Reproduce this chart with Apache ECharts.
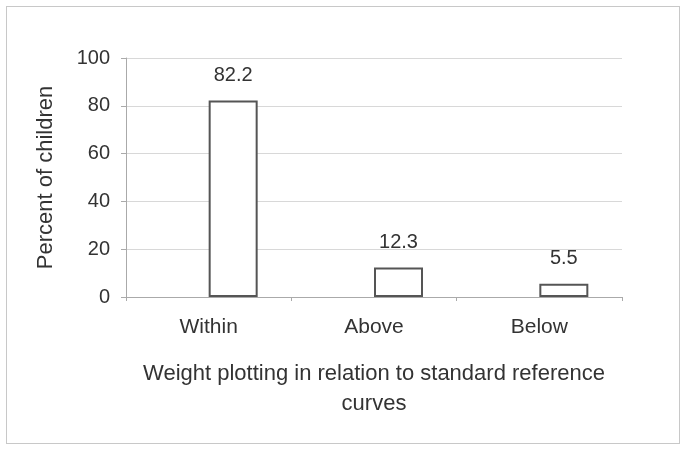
<!DOCTYPE html>
<html><head><meta charset="utf-8">
<script src="https://cdn.jsdelivr.net/npm/echarts@6/dist/echarts.min.js"></script>
<style>html,body{margin:0;padding:0;background:#fff}#c{width:689px;height:450px}
#frame{position:absolute;left:6px;top:6px;width:674px;height:438px;border:1px solid #c8c8c8;box-sizing:border-box;pointer-events:none}</style>
</head><body><div id="c"></div><div id="frame"></div>
<script>
const categories = ['Within', 'Above', 'Below'];
const values = [82.2, 12.3, 5.5];
const yTicks = [0, 20, 40, 60, 80, 100];
const yTitle = 'Percent of children';
const xTitle = 'Weight plotting in relation to standard reference\ncurves';

const chart = echarts.init(document.getElementById('c'), null, {renderer: 'canvas'});
const font = 'Liberation Sans, Arial, sans-serif';
chart.setOption({
  animation: false,
  backgroundColor: '#fff',
  grid: {left: 126, right: 67, top: 58, bottom: 153, containLabel: false},
  xAxis: {
    type: 'category', data: categories,
    axisLine: {lineStyle: {color: '#aaa', width: 1}},
    axisTick: {show: true, length: 4, lineStyle: {color: '#aaa'}},
    axisLabel: {color: '#333', fontSize: 21, fontFamily: font, margin: 20},
    name: xTitle, nameLocation: 'middle', nameGap: 62,
    nameTextStyle: {color: '#333', fontSize: 22, fontFamily: font, lineHeight: 30}
  },
  yAxis: {
    type: 'value', min: yTicks[0], max: yTicks[yTicks.length - 1], interval: 20,
    axisLine: {show: true, lineStyle: {color: '#aaa', width: 1}},
    axisTick: {show: true, length: 5, lineStyle: {color: '#aaa'}},
    splitLine: {lineStyle: {color: '#d8d8d8', width: 1}},
    axisLabel: {color: '#333', fontSize: 20, fontFamily: font, margin: 16},
    name: yTitle, nameLocation: 'middle', nameGap: 69, nameRotate: 90,
    nameTextStyle: {color: '#333', fontSize: 22, fontFamily: font}
  },
  series: [
    {type: 'bar', data: categories.map(() => '-'), barWidth: 49, barGap: '0%', silent: true},
    {type: 'bar', data: values, barWidth: 49, barGap: '0%',
     itemStyle: {color: '#fff', borderColor: '#555', borderWidth: 2},
     label: {show: true, position: 'top', distance: 15, color: '#333', fontSize: 20, fontFamily: font}}
  ]
});
</script></body></html>
